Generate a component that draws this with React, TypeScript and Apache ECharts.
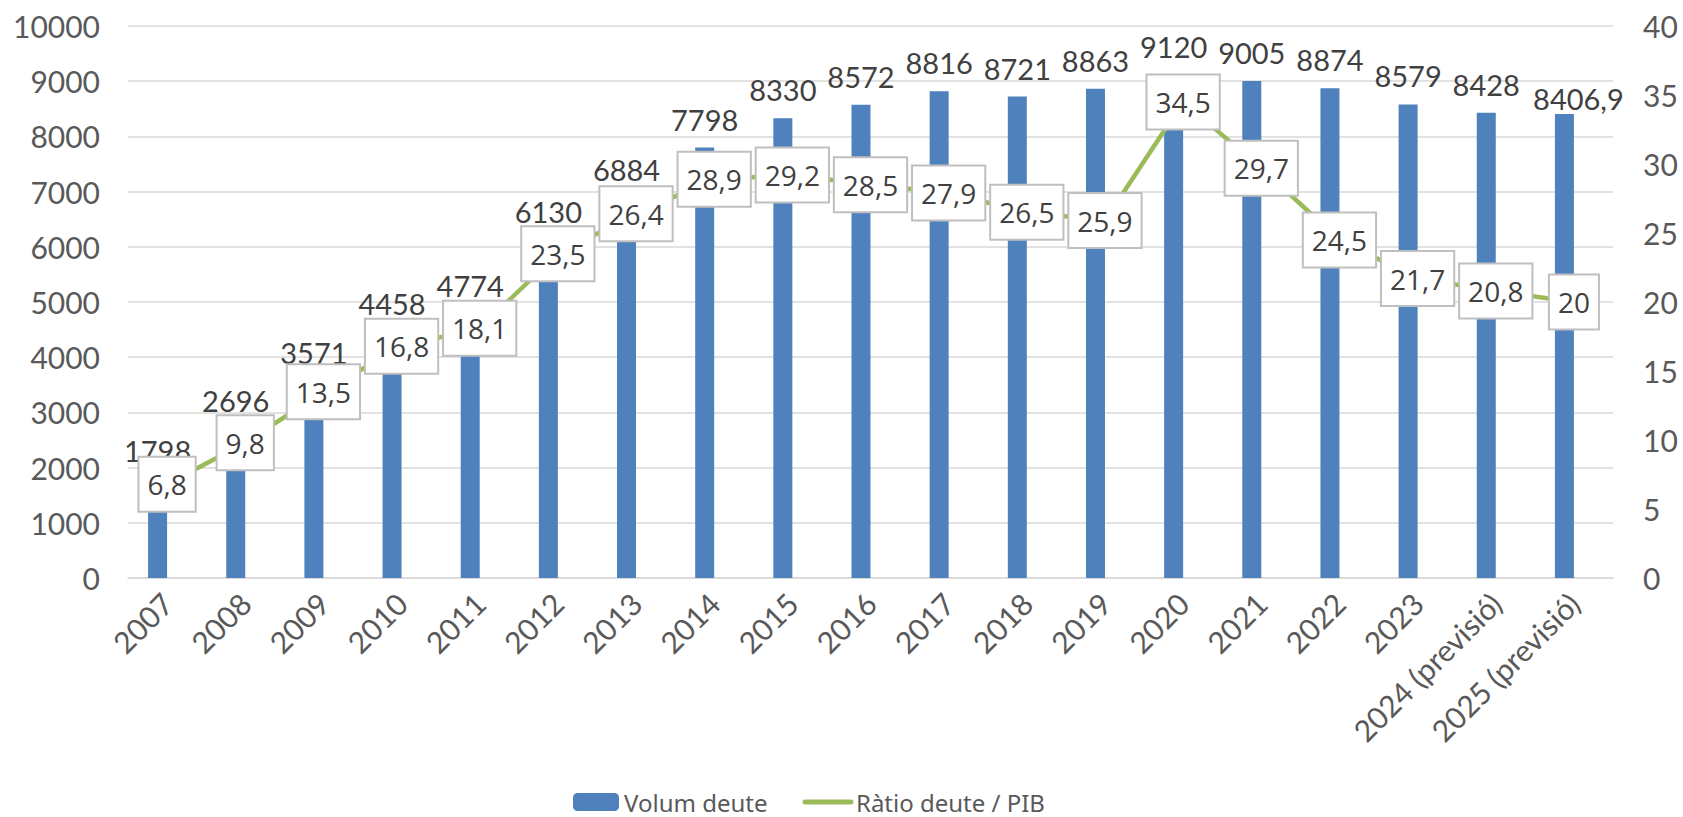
import React, { useEffect, useRef } from "react";
import * as echarts from "echarts";

const categories = ["2007","2008","2009","2010","2011","2012","2013","2014","2015","2016","2017","2018","2019","2020","2021","2022","2023","2024 (previsió)","2025 (previsió)"];
const volumDeute = [1798,2696,3571,4458,4774,6130,6884,7798,8330,8572,8816,8721,8863,9120,9005,8874,8579,8428,8406.9];
const ratioPIB = [6.8,9.8,13.5,16.8,18.1,23.5,26.4,28.9,29.2,28.5,27.9,26.5,25.9,34.5,29.7,24.5,21.7,20.8,20];
const leftTicks = { min: 0, max: 10000, interval: 1000 };
const rightTicks = { min: 0, max: 40, interval: 5 };

const fmt = (v: number) => String(v).replace(".", ",");
const TXT = "#595959";

export default function App() {
  const ref = useRef<HTMLDivElement>(null);
  useEffect(() => {
    const chart = echarts.init(ref.current!, undefined, { renderer: "svg" });
    const lastIdx = volumDeute.length - 1;
    chart.setOption({
      animation: false,
      textStyle: { fontFamily: "Lato", color: TXT },
      grid: { left: 128, right: 70, top: 26, bottom: 239, containLabel: false },
      legend: {
        data: [
          { name: "Volum deute" },
          {
            name: "Ràtio deute / PIB",
            itemStyle: { color: "transparent", borderWidth: 0, opacity: 0 },
            lineStyle: { width: 5, cap: "round", color: "#9BBB59" },
          },
        ],
        top: 790,
        padding: 0,
        left: 573,
        itemWidth: 46,
        itemHeight: 18,
        itemGap: 35,
        textStyle: { fontFamily: "Noto Sans", fontSize: 24, color: TXT },
      },
      xAxis: {
        type: "category",
        data: categories,
        axisTick: { show: false },
        axisLine: { lineStyle: { color: "#D9D9D9", width: 1.5 } },
        axisLabel: { rotate: 45, fontSize: 30, color: TXT, margin: 20, interval: 0 },
      },
      yAxis: [
        {
          type: "value",
          ...leftTicks,
          axisLine: { show: false },
          axisTick: { show: false },
          splitLine: { lineStyle: { color: "#D9D9D9", width: 1.5 } },
          axisLabel: { fontSize: 30, color: TXT, margin: 28, formatter: (v: number) => String(v) },
        },
        {
          type: "value",
          ...rightTicks,
          axisLine: { show: false },
          axisTick: { show: false },
          splitLine: { show: false },
          axisLabel: { fontSize: 30, color: TXT, margin: 30, formatter: (v: number) => String(v) },
        },
      ],
      series: [
        {
          name: "Volum deute",
          type: "bar",
          data: volumDeute.map((v, i) =>
            i === lastIdx ? { value: v, label: { offset: [14, 13] } } : v
          ),
          barWidth: 19,
          barGap: "0%",
          itemStyle: { color: "#4F81BD" },
          label: {
            show: true,
            position: "top",
            distance: 14,
            fontSize: 29,
            fontFamily: "Lato",
            color: "#404040",
            formatter: (p: any) => fmt(p.value),
          },
          z: 2,
        },
        {
          name: "_dummy",
          type: "bar",
          data: volumDeute.map(() => "-"),
          barWidth: 19,
          barGap: "0%",
          silent: true,
        },
        {
          name: "Ràtio deute / PIB",
          type: "line",
          yAxisIndex: 1,
          data: ratioPIB,
          symbol: "circle",
          symbolSize: 1,
          lineStyle: { color: "#9BBB59", width: 4.5 },
          itemStyle: { color: "#9BBB59" },
          label: {
            show: true,
            position: "inside",
            fontSize: 28,
            fontFamily: "Open Sans",
            color: "#404040",
            backgroundColor: "#FFFFFF",
            borderColor: "#BFBFBF",
            borderWidth: 2,
            padding: [13, 8, 12, 8],
            formatter: (p: any) => fmt(p.value),
          },
          z: 5,
        },
      ],
    });
    return () => chart.dispose();
  }, []);
  return <div ref={ref} style={{ width: 1683, height: 817, position: "absolute", left: 0, top: 0 }} />;
}
